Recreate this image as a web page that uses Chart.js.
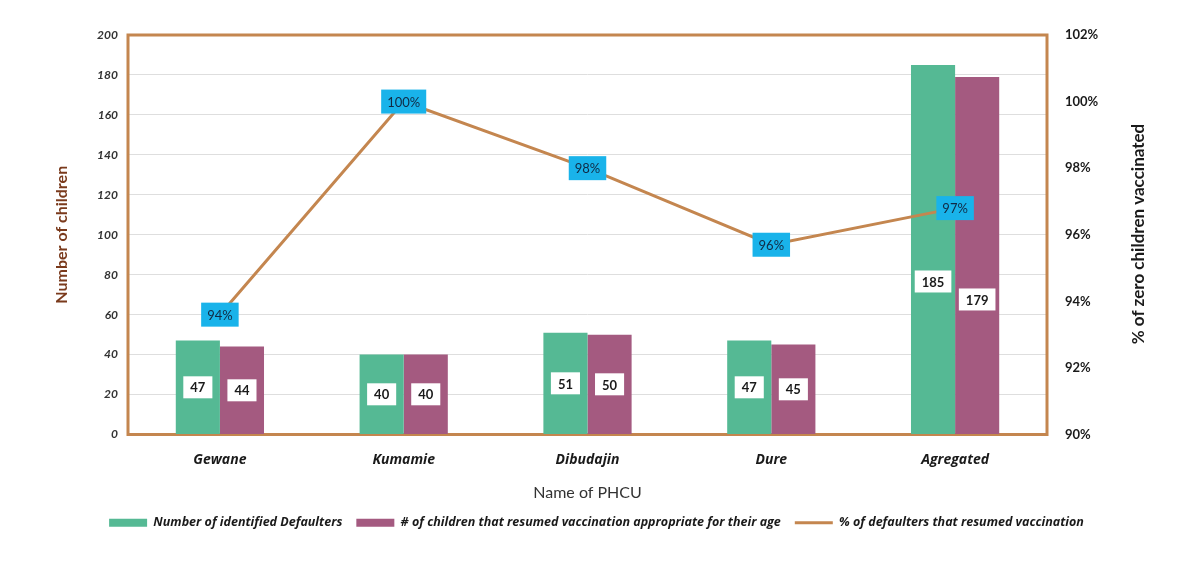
<!DOCTYPE html>
<html>
<head>
<meta charset="utf-8">
<script src="https://cdn.jsdelivr.net/npm/chart.js@4/dist/chart.umd.min.js"></script>
<style>
  html, body { margin: 0; padding: 0; background: #fff; }
  #wrap { width: 1193px; height: 562px; }
</style>
</head>
<body>
<div id="wrap"><canvas id="myChart" width="1193" height="562"></canvas></div>
<script>
// PHCU names and counts
var phcu = ['Gewane', 'Kumamie', 'Dibudajin', 'Dure', 'Agregated'];
var defaulters = [47, 40, 51, 47, 185];
var resumed = [44, 40, 50, 45, 179];
// share of defaulters that resumed, in %
var pctResumed = [93.6, 100, 98.0, 95.7, 96.8];

var FONT = 'Lato, "Open Sans", sans-serif';
var WIDE = '"Open Sans", Lato, sans-serif';
var GREEN = '#55b994';
var MAUVE = '#a45a80';
var BROWN = '#c4864f';

// frame round the plot area, value boxes and the rotated right-hand title
var extras = {
  id: 'extras',
  beforeDatasetsDraw: function (chart) {
    var ctx = chart.ctx;
    var a = chart.chartArea;
    ctx.save();
    ctx.strokeStyle = BROWN;
    ctx.lineWidth = 3;
    ctx.strokeRect(a.left, a.top, a.right - a.left, a.bottom - a.top);
    ctx.restore();
  },
  afterDatasetsDraw: function (chart) {
    var ctx = chart.ctx;
    ctx.save();
    ctx.textAlign = 'center';
    ctx.textBaseline = 'middle';

    // bar value boxes
    [0, 1].forEach(function (di) {
      var meta = chart.getDatasetMeta(di);
      var vals = chart.data.datasets[di].data;
      meta.data.forEach(function (bar, i) {
        var shift = (i === 4) ? (di === 0 ? 32 : 44) : 0;
        var y = (bar.y + bar.base) / 2 + shift;
        var txt = String(vals[i]);
        ctx.font = 'bold 13px ' + FONT;
        var w = ctx.measureText(txt).width + 14;
        ctx.fillStyle = '#ffffff';
        ctx.fillRect(bar.x - w / 2, y - 11, w, 22);
        ctx.fillStyle = '#1a1a1a';
        ctx.fillText(txt, bar.x, y + 1);
      });
    });

    // percentage boxes on the line
    var lmeta = chart.getDatasetMeta(2);
    lmeta.data.forEach(function (pt, i) {
      var txt = Math.round(pctResumed[i]) + '%';
      ctx.font = '13px ' + FONT;
      var w = ctx.measureText(txt).width + 12;
      ctx.fillStyle = '#19b3ea';
      ctx.fillRect(pt.x - w / 2, pt.y - 12, w, 24);
      ctx.fillStyle = '#112a44';
      ctx.fillText(txt, pt.x, pt.y + 1);
    });
    ctx.restore();
  },
  afterDraw: function (chart) {
    var ctx = chart.ctx;
    ctx.save();
    ctx.translate(1139, 234);
    ctx.rotate(-Math.PI / 2);
    ctx.font = 'bold 17px ' + FONT;
    ctx.fillStyle = '#1a1a1a';
    ctx.textAlign = 'center';
    ctx.textBaseline = 'middle';
    ctx.fillText('% of zero children vaccinated', 0, 0);
    ctx.restore();
  }
};

var ctx = document.getElementById('myChart').getContext('2d');
var config = {
  type: 'bar',
  data: {
    labels: phcu,
    datasets: [{
      label: 'Number of identified Defaulters',
      data: defaulters,
      backgroundColor: GREEN,
      borderWidth: 0,
      pointStyle: 'rect',
      yAxisID: 'y',
      order: 2
    }, {
      label: '# of children that resumed vaccination appropriate for their age',
      data: resumed,
      backgroundColor: MAUVE,
      borderWidth: 0,
      pointStyle: 'rect',
      yAxisID: 'y',
      order: 2
    }, {
      type: 'line',
      label: '% of defaulters that resumed vaccination',
      data: pctResumed,
      borderColor: BROWN,
      backgroundColor: BROWN,
      borderWidth: 3,
      pointRadius: 0,
      pointStyle: 'line',
      tension: 0,
      yAxisID: 'y2',
      order: 1
    }]
  },
  options: {
    responsive: false,
    animation: false,
    layout: { padding: { top: 35, bottom: 23, left: 0, right: 0 } },
    datasets: {
      bar: { categoryPercentage: 0.48, barPercentage: 1.0 }
    },
    plugins: {
      tooltip: { enabled: false },
      legend: {
        position: 'bottom',
        labels: {
          usePointStyle: true,
          pointStyleWidth: 38,
          boxHeight: 8,
          padding: 14,
          color: '#1a1a1a',
          sort: function (a, b) { return a.datasetIndex - b.datasetIndex; },
          font: { family: WIDE, size: 12.5, style: 'italic', weight: 'bold' }
        }
      }
    },
    scales: {
      x: {
        grid: { display: false },
        border: { display: false },
        ticks: {
          color: '#1a1a1a',
          padding: 9,
          font: { family: WIDE, size: 14, style: 'italic', weight: 'bold' }
        },
        title: {
          display: true,
          text: 'Name of PHCU',
          color: '#333',
          padding: { top: 2, bottom: 0 },
          font: { family: FONT, size: 16 }
        },
        afterFit: function (scale) { scale.height = 68; }
      },
      y: {
        position: 'left',
        min: 0,
        max: 200,
        ticks: {
          stepSize: 20,
          color: '#333',
          padding: 10,
          font: { family: FONT, size: 12, style: 'italic', weight: 'bold' }
        },
        grid: { color: '#dedede', lineWidth: 1, drawTicks: false },
        border: { display: false },
        title: {
          display: true,
          text: 'Number of children',
          color: '#7a3a1c',
          padding: { top: 52, bottom: 0 },
          font: { family: FONT, size: 16, weight: 'bold' }
        },
        afterFit: function (scale) { scale.width = 128; }
      },
      y2: {
        position: 'right',
        min: 90,
        max: 102,
        ticks: {
          stepSize: 2,
          color: '#1a1a1a',
          padding: 10,
          callback: function (v) { return v + '%'; },
          font: { family: FONT, size: 13, weight: 'bold' }
        },
        grid: { display: false },
        border: { display: false },
        afterFit: function (scale) { scale.width = 146; }
      }
    }
  },
  plugins: [extras]
};

window.myChart = new Chart(ctx, config);
</script>
</body>
</html>
